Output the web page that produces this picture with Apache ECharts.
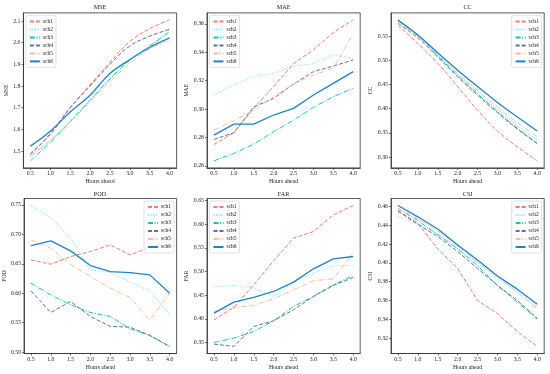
<!DOCTYPE html>
<html><head><meta charset="utf-8">
<script src="https://cdn.jsdelivr.net/npm/echarts@6/dist/echarts.min.js"></script>
<style>html,body{margin:0;padding:0;background:#fff}#c{width:550px;height:374px}</style>
</head><body><div id="c"></div><script>
const hours = [0.5, 1.0, 1.5, 2.0, 2.5, 3.0, 3.5, 4.0];
const schemes = ['sch1', 'sch2', 'sch3', 'sch4', 'sch5', 'sch6'];
const panelTitles = ['MSE', 'MAE', 'CC', 'POD', 'FAR', 'CSI'];

const MSE = [
  [1.490, 1.575, 1.700, 1.805, 1.910, 2.005, 2.065, 2.105],
  [1.475, 1.550, 1.640, 1.735, 1.835, 1.920, 1.985, 2.058],
  [1.455, 1.540, 1.635, 1.735, 1.832, 1.920, 1.985, 2.050],
  [1.485, 1.580, 1.700, 1.800, 1.900, 1.985, 2.030, 2.062],
  [1.478, 1.550, 1.635, 1.728, 1.820, 1.905, 1.972, 2.012],
  [1.523, 1.592, 1.680, 1.758, 1.858, 1.922, 1.978, 2.022]
];
const MAE = [
  [0.2750, 0.2833, 0.3005, 0.3160, 0.3320, 0.3417, 0.3540, 0.3628],
  [0.3100, 0.3170, 0.3233, 0.3250, 0.3303, 0.3320, 0.3380, 0.3358],
  [0.2635, 0.2687, 0.2753, 0.2840, 0.2922, 0.3012, 0.3087, 0.3146],
  [0.2786, 0.2833, 0.3016, 0.3075, 0.3176, 0.3264, 0.3303, 0.3346],
  [0.2852, 0.2918, 0.2993, 0.3087, 0.3176, 0.3240, 0.3287, 0.3534],
  [0.2816, 0.2894, 0.2894, 0.2958, 0.3005, 0.3099, 0.3181, 0.3264]
];
const CC = [
  [0.573, 0.535, 0.494, 0.446, 0.397, 0.354, 0.321, 0.292],
  [0.581, 0.551, 0.511, 0.471, 0.434, 0.398, 0.365, 0.335],
  [0.582, 0.552, 0.510, 0.469, 0.431, 0.394, 0.360, 0.328],
  [0.577, 0.547, 0.507, 0.466, 0.428, 0.392, 0.358, 0.328],
  [0.578, 0.550, 0.512, 0.474, 0.438, 0.403, 0.371, 0.342],
  [0.584, 0.553, 0.516, 0.480, 0.446, 0.413, 0.383, 0.354]
];
const POD = [
  [0.6567, 0.6493, 0.6623, 0.6708, 0.6821, 0.6652, 0.6780, 0.6900],
  [0.7490, 0.7285, 0.6934, 0.6397, 0.6357, 0.6188, 0.6041, 0.5633],
  [0.6171, 0.5973, 0.5803, 0.5673, 0.5605, 0.5396, 0.5283, 0.5096],
  [0.6041, 0.5673, 0.5860, 0.5605, 0.5436, 0.5424, 0.5283, 0.5096],
  [0.6906, 0.6765, 0.6493, 0.6284, 0.6086, 0.5928, 0.5549, 0.6001],
  [0.6810, 0.6889, 0.6720, 0.6471, 0.6369, 0.6352, 0.6312, 0.6001]
];
const FAR = [
  [0.3979, 0.4239, 0.4718, 0.5225, 0.5704, 0.5845, 0.6197, 0.6394],
  [0.4683, 0.4704, 0.4648, 0.4470, 0.4789, 0.4965, 0.5120, 0.5120],
  [0.3500, 0.3592, 0.3732, 0.3958, 0.4261, 0.4472, 0.4718, 0.4915],
  [0.3465, 0.3415, 0.3838, 0.3958, 0.4190, 0.4472, 0.4704, 0.4873],
  [0.4155, 0.4239, 0.4282, 0.4423, 0.4613, 0.4803, 0.4845, 0.5387],
  [0.4120, 0.4352, 0.4451, 0.4577, 0.4775, 0.5056, 0.5268, 0.5317]
];
const CSI = [
  [0.456, 0.442, 0.415, 0.394, 0.360, 0.346, 0.327, 0.311],
  [0.449, 0.442, 0.431, 0.415, 0.400, 0.384, 0.370, 0.353],
  [0.458, 0.445, 0.430, 0.415, 0.397, 0.376, 0.358, 0.340],
  [0.455, 0.441, 0.428, 0.412, 0.394, 0.376, 0.360, 0.341],
  [0.458, 0.447, 0.434, 0.418, 0.401, 0.386, 0.368, 0.351],
  [0.461, 0.449, 0.436, 0.419, 0.403, 0.386, 0.372, 0.356]
];

const xTicks = [0.5, 1.0, 1.5, 2.0, 2.5, 3.0, 3.5, 4.0];
const mseTicks = [1.5, 1.6, 1.7, 1.8, 1.9, 2.0, 2.1];
const maeTicks = [0.26, 0.28, 0.30, 0.32, 0.34, 0.36];
const ccTicks = [0.30, 0.35, 0.40, 0.45, 0.50, 0.55];
const podTicks = [0.50, 0.55, 0.60, 0.65, 0.70, 0.75];
const farTicks = [0.35, 0.40, 0.45, 0.50, 0.55, 0.60, 0.65];
const csiTicks = [0.32, 0.34, 0.36, 0.38, 0.40, 0.42, 0.44, 0.46];

const panelData = [MSE, MAE, CC, POD, FAR, CSI];
const panelTicks = [mseTicks, maeTicks, ccTicks, podTicks, farTicks, csiTicks];
const panelDecimals = [1, 2, 2, 2, 2, 2];
const panelSmooth = [true, false, true, false, false, false];
const legendRight = [false, false, true, true, false, true];
const nameGaps = [11, 16, 16, 16, 16, 16];

const colors = ['#f47c6a', '#7fe3ec', '#1cc6a2', '#6070a8', '#fbbc9c', '#1f84c6'];
const dashes = [[4, 2], [1, 1.6], [5, 1.6, 1, 1.6], [4, 2], [5, 1.6, 1, 1.6], 'solid'];
const widths = [1, 1.1, 1, 1, 1, 1.3];

const colLeft = [23.4, 207, 391];
const gridW = 153.2;
const rowTop = [12.9, 198.5];
const gridH = 155;
const FONT = 'Liberation Serif';

const grids = [], xAxes = [], yAxes = [], series = [], titles = [], legends = [];
for (let p = 0; p < 6; p++) {
  const col = p % 3, row = Math.floor(p / 3);
  const left = colLeft[col], top = rowTop[row];
  grids.push({left: left, top: top, width: gridW, height: gridH, show: true,
    borderColor: '#333', borderWidth: 0.8, backgroundColor: 'transparent', containLabel: false});
  const all = panelData[p].flat();
  const lo = Math.min(...all), hi = Math.max(...all), pad = (hi - lo) * 0.05;
  const dec = panelDecimals[p];
  xAxes.push({type: 'value', gridIndex: p, min: 0.325, max: 4.175,
    name: 'Hours ahead', nameLocation: 'middle', nameGap: 11,
    nameTextStyle: {fontFamily: FONT, fontSize: 5.8, color: '#222'},
    axisLine: {show: true, lineStyle: {color: '#333', width: 0.8}},
    axisTick: {show: true, length: 2, lineStyle: {color: '#333', width: 0.7}, customValues: xTicks},
    axisLabel: {show: true, fontFamily: FONT, fontSize: 5.8, color: '#222', margin: 3,
      customValues: xTicks, formatter: v => Number(v).toFixed(1)},
    splitLine: {show: false}});
  yAxes.push({type: 'value', gridIndex: p, min: lo - pad, max: hi + pad,
    name: panelTitles[p], nameLocation: 'middle', nameGap: nameGaps[p],
    nameTextStyle: {fontFamily: FONT, fontSize: 5.8, color: '#222'},
    axisLine: {show: true, lineStyle: {color: '#333', width: 0.8}},
    axisTick: {show: true, length: 2, lineStyle: {color: '#333', width: 0.7}, customValues: panelTicks[p]},
    axisLabel: {show: true, fontFamily: FONT, fontSize: 5.8, color: '#222', margin: 3,
      customValues: panelTicks[p], formatter: v => Number(v).toFixed(dec)},
    splitLine: {show: false}});
  titles.push({text: panelTitles[p], left: left + gridW / 2, top: row === 0 ? 4 : 191,
    textAlign: 'center', padding: 0,
    textStyle: {fontFamily: FONT, fontSize: 6.2, fontWeight: 'normal', color: '#222'}});
  const lg = {orient: 'vertical', top: top + 2.5, data: schemes,
    itemWidth: 10, itemHeight: 6, itemGap: 2, padding: [3, 3, 3, 3],
    borderColor: '#ccc', borderWidth: 0.6, borderRadius: 2, backgroundColor: 'rgba(255,255,255,0.8)',
    itemStyle: {color: 'rgba(0,0,0,0)', borderWidth: 0, opacity: 0},
    textStyle: {fontFamily: FONT, fontSize: 5.5, color: '#222', lineHeight: 6, padding: [0, 0, 0, -2]},
    selectedMode: false};
  if (legendRight[p]) lg.right = 550 - (left + gridW) + 2.5; else lg.left = left + 2.5;
  legends.push(lg);
  for (let s = 0; s < 6; s++) {
    series.push({type: 'line', name: schemes[s], xAxisIndex: p, yAxisIndex: p,
      data: hours.map((h, i) => [h, panelData[p][s][i]]),
      symbol: 'none', smooth: panelSmooth[p] ? 0.4 : false,
      lineStyle: {color: colors[s], width: widths[s], type: dashes[s]},
      itemStyle: {color: colors[s]}, animation: false, z: s === 5 ? 3 : 2});
  }
}

const chart = echarts.init(document.getElementById('c'), null, {renderer: 'canvas'});
chart.setOption({backgroundColor: '#fff', animation: false,
  title: titles, legend: legends, grid: grids, xAxis: xAxes, yAxis: yAxes, series: series});
</script></body></html>
